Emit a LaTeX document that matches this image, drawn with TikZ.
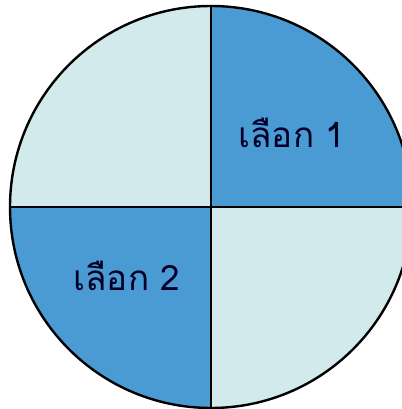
\documentclass[tikz,border=0pt]{standalone}
\usepackage{fontspec}
\newfontfamily\thaifont[Script=Thai]{Loma}
\usetikzlibrary{positioning}
\definecolor{darkblue}{RGB}{74,155,212}
\definecolor{paleblue}{RGB}{210,234,236}
\tikzset{
    darkpart/.style={fill=darkblue},
    lightpart/.style={fill=paleblue},
    edge/.style={draw=black, line width=1.2pt},
    choice/.style={font=\thaifont\fontsize{17.5}{20}\selectfont, text=black!85!blue}
}

\begin{document}
\begin{tikzpicture}[x=0.5pt, y=0.5pt]
        \clip (0,0) rectangle (402,409);
        \coordinate (c) at (211,202);
        \coordinate (top) at (211,403);
        \coordinate (bottom) at (211,1);
        \coordinate (left) at (10,202);
        \coordinate (right) at (412,202);

        % four quarters
        \fill [lightpart] (c) -- (top) arc (90:180:201) -- cycle;
        \fill [darkpart] (c) -- (right) arc (0:90:201) -- cycle;
        \fill [darkpart] (c) -- (left) arc (180:270:201) -- cycle;
        \fill [lightpart] (c) -- (bottom) arc (270:360:201) -- cycle;

        \draw [edge] (c) circle (201);
        \draw [edge] (top) -- (bottom);
        \draw [edge] (left) -- (right);

        \node (opt1) [choice] at (292,276) {เลือก 1};
        \node (opt2) [choice] at (127,133) {เลือก 2};
    \end{tikzpicture}
\end{document}
